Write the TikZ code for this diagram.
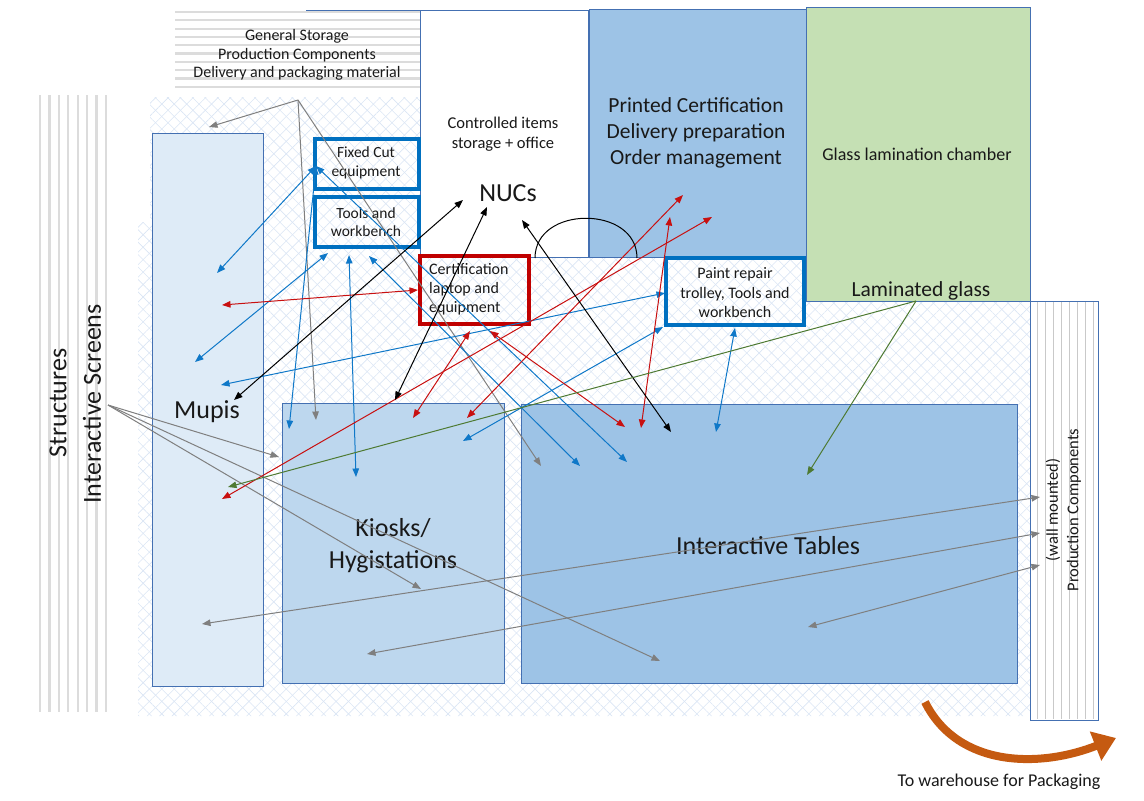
\documentclass[tikz,border=0pt]{standalone}
\usepackage{fontspec}
\setmainfont{Carlito}
\usetikzlibrary{arrows.meta,patterns.meta}
\definecolor{outline}{HTML}{4470B2}
\definecolor{boldblue}{HTML}{0070C0}
\definecolor{boldred}{HTML}{C00000}
\definecolor{paleblue}{HTML}{DEEBF7}
\definecolor{midblue}{HTML}{BDD7EE}
\definecolor{deepblue}{HTML}{9DC3E6}
\definecolor{lamgreen}{HTML}{C5E0B4}
\definecolor{hatchcol}{HTML}{DAE5F4}
\definecolor{stripecol}{HTML}{DCDCDC}
\definecolor{arrgray}{HTML}{7F7F7F}
\definecolor{arrblue}{HTML}{0F78C8}
\definecolor{arrred}{HTML}{C81010}
\definecolor{arrgreen}{HTML}{4E7A32}
\definecolor{orangearr}{HTML}{C55A11}
\begin{document}
\begin{tikzpicture}[x=1pt,y=-1pt,
  >={Triangle[length=8.5pt,width=6.5pt]},
  area/.style={draw=outline, line width=1pt, anchor=north west, inner sep=0pt, outer sep=0pt},
  unitbox/.style={draw=boldblue, line width=3.6pt, anchor=north west, inner sep=0pt, outer sep=0pt},
  certbox/.style={draw=boldred, line width=3.6pt, anchor=north west, inner sep=0pt, outer sep=0pt},
  stripe/.style={draw=stripecol, line width=2.2pt},
  thinstripe/.style={draw=stripecol!80!gray, line width=0.8pt},
  garr/.style={draw=arrgray, line width=1pt},
  barr/.style={draw=arrblue, line width=1pt},
  rarr/.style={draw=arrred, line width=1pt},
  karr/.style={draw=black, line width=1pt},
  narr/.style={draw=arrgreen, line width=1pt},
  lbl/.style={inner sep=0pt, align=center, text=black!90}
]
\useasboundingbox (0,0) rectangle (1144,801);

% floor hatching
\fill[pattern={Lines[angle=45,distance=8.8pt,line width=0.6pt]}, pattern color=hatchcol]
  (150,97) -- (1030,97) -- (1030,716) -- (138,716) -- (138,222) -- (150,222) -- cycle;
\fill[pattern={Lines[angle=-45,distance=8.8pt,line width=0.6pt]}, pattern color=hatchcol]
  (150,97) -- (1030,97) -- (1030,716) -- (138,716) -- (138,222) -- (150,222) -- cycle;

% striped storage zones
\foreach \yy in {12,20.3,...,95} \draw[stripe] (175,\yy) -- (420,\yy);
\foreach \xx in {40,49.4,...,107} \draw[stripe] (\xx,95) -- (\xx,712);

% rooms and areas
\node[area, fill=white, minimum width=168pt, minimum height=247pt] (ctrl) at (420,10) {};
\node[area, fill=deepblue, minimum width=217pt, minimum height=248pt] (printed) at (589,9) {};
\node[area, fill=lamgreen, minimum width=224pt, minimum height=294pt] (lamin) at (806,7) {};
\node[area, fill=white, minimum width=68pt, minimum height=419pt] (prod) at (1030,301) {};
\foreach \xx in {1037,1045,...,1095} \draw[thinstripe] (\xx,302) -- (\xx,719);
\draw[area] (prod.north west) rectangle (prod.south east);
\node[area, fill=paleblue, minimum width=111pt, minimum height=553pt] (mupis) at (152,133) {};
\node[area, fill=midblue, minimum width=222pt, minimum height=280pt] (kiosk) at (282,403) {};
\node[area, fill=deepblue, minimum width=496pt, minimum height=279pt] (tables) at (521,404) {};

\coordinate (edgeA) at (306,10);
\coordinate (edgeB) at (420,10);
\draw[draw=outline, line width=1pt] (edgeA) -- (edgeB);

% equipment boxes
\node[unitbox, minimum width=104pt, minimum height=50pt] (fixedcut) at (315,139) {};
\node[unitbox, minimum width=104pt, minimum height=50pt] (tools) at (315,197) {};
\node[certbox, minimum width=109pt, minimum height=68pt] (cert) at (420,256) {};
\node[unitbox, minimum width=138pt, minimum height=67pt] (paint) at (666,258) {};

% labels
\node[lbl, font=\fontsize{16}{18.6}\selectfont] (storagetxt) at (297,55) {General Storage\\Production Components\\Delivery and packaging material};
\node[lbl, font=\fontsize{16.5}{20}\selectfont] (ctrltxt) at (503,134) {Controlled items\\storage + office};
\node[lbl, font=\fontsize{26}{31}\selectfont] (nucs) at (508,193) {NUCs};
\node[lbl, font=\fontsize{21.5}{26}\selectfont] (printedtxt) at (696,133) {Printed Certification\\Delivery preparation\\Order management};
\node[lbl, font=\fontsize{18}{21}\selectfont] (lamintxt) at (917,154) {Glass lamination chamber};
\node[lbl, font=\fontsize{21.5}{26}\selectfont] (lamglass) at (921,291) {Laminated glass};
\node[lbl, font=\fontsize{15.5}{19}\selectfont] (fixedtxt) at (366,163) {Fixed Cut\\equipment};
\node[lbl, font=\fontsize{15.5}{17.5}\selectfont] (toolstxt) at (366,222) {Tools and\\workbench};
\node[lbl, font=\fontsize{16}{19}\selectfont, anchor=west, align=left] (certtxt) at (429,289) {Certification\\laptop and\\equipment};
\node[lbl, font=\fontsize{16}{19.5}\selectfont] (painttxt) at (735,293) {Paint repair\\trolley, Tools and\\workbench};
\node[lbl, font=\fontsize{26}{31}\selectfont] (mupistxt) at (207,412) {Mupis};
\node[lbl, font=\fontsize{26}{32}\selectfont] (kiosktxt) at (393,546) {Kiosks/\\Hygistations};
\node[lbl, font=\fontsize{26}{31}\selectfont] (tablestxt) at (768,546) {Interactive Tables};
\node[lbl, font=\fontsize{26}{31}\selectfont, rotate=90] (structtxt) at (58,403) {Structures};
\node[lbl, font=\fontsize{26}{31}\selectfont, rotate=90] (screentxt) at (92,404) {Interactive Screens};
\node[lbl, font=\fontsize{16.5}{20}\selectfont, rotate=90] (walltxt) at (1053,510) {(wall mounted)};
\node[lbl, font=\fontsize{16.5}{20}\selectfont, rotate=90] (prodtxt) at (1074,510) {Production Components};
\node[lbl, font=\fontsize{18}{21}\selectfont] (warehouse) at (999,782) {To warehouse for Packaging};

% flow end points
\coordinate (gsrc) at (298,100);
\coordinate (isrc) at (108,405);
\coordinate (lsrc) at (916,301);
\coordinate (g1) at (209,127);
\coordinate (g2) at (316,420);
\coordinate (g3) at (541,466);
\coordinate (g4) at (279,457);
\coordinate (g5) at (421,589);
\coordinate (g6) at (660,661);
\coordinate (g7a) at (202,624);  \coordinate (g7b) at (1040,497);
\coordinate (g8a) at (367,654);  \coordinate (g8b) at (1040,533);
\coordinate (g9a) at (808,627);  \coordinate (g9b) at (1040,565);
\coordinate (fc) at (316,166);
\coordinate (b1) at (217,273);
\coordinate (b2) at (289,429);
\coordinate (b3) at (627,462);
\coordinate (t1) at (328,253);  \coordinate (b4) at (195,362);
\coordinate (t2) at (349,255);  \coordinate (b5) at (356,477);
\coordinate (t3) at (369,256);  \coordinate (b6) at (580,466);
\coordinate (p1) at (665,293);  \coordinate (b7) at (221,385);
\coordinate (p2) at (663,327);  \coordinate (b8) at (463,441);
\coordinate (p3) at (735,328);  \coordinate (b9) at (716,432);
\coordinate (c1) at (418,290);  \coordinate (r1) at (222,305);
\coordinate (c2) at (470,331);  \coordinate (r2) at (413,418);
\coordinate (c3) at (490,331);  \coordinate (r3) at (625,427);
\coordinate (d1) at (712,217);  \coordinate (r4) at (222,499);
\coordinate (d2) at (683,195);  \coordinate (r5) at (467,418);
\coordinate (d3) at (670,217);  \coordinate (r6) at (641,428);
\coordinate (n1) at (463,200);  \coordinate (k1) at (234,400);
\coordinate (n2) at (487,207);  \coordinate (k2) at (395,400);
\coordinate (n3) at (522,220);  \coordinate (k3) at (671,432);
\coordinate (arcL) at (535,258); \coordinate (arcR) at (637,258);
\coordinate (e1) at (228,487);
\coordinate (e2) at (807,475);
\coordinate (oStart) at (925,702);
\coordinate (oEnd) at (1116,738);

% storage supply
\draw[garr,->] (gsrc) -- (g1);
\draw[garr,->] (gsrc) -- (g2);
\draw[garr,->] (gsrc) -- (g3);
% interactive screen structures
\draw[garr,->] (isrc) -- (g4);
\draw[garr,->] (isrc) -- (g5);
\draw[garr,->] (isrc) -- (g6);
% wall mounted components
\draw[garr,<->] (g7a) -- (g7b);
\draw[garr,<->] (g8a) -- (g8b);
\draw[garr,<->] (g9a) -- (g9b);

% tools and equipment
\draw[barr,<->] (fc) -- (b1);
\draw[barr,<->] (fc) -- (b2);
\draw[barr,<->] (fc) -- (b3);
\draw[barr,<->] (t1) -- (b4);
\draw[barr,<->] (t2) -- (b5);
\draw[barr,<->] (t3) -- (b6);
\draw[barr,<->] (p1) -- (b7);
\draw[barr,<->] (p2) -- (b8);
\draw[barr,<->] (p3) -- (b9);

% certification
\draw[rarr,<->] (c1) -- (r1);
\draw[rarr,<->] (c2) -- (r2);
\draw[rarr,<->] (c3) -- (r3);
\draw[rarr,<->] (d1) -- (r4);
\draw[rarr,<->] (d2) -- (r5);
\draw[rarr,<->] (d3) -- (r6);

% NUCs
\draw[karr,<->] (n1) -- (k1);
\draw[karr,<->] (n2) -- (k2);
\draw[karr,<->] (n3) -- (k3);
\draw[karr] (arcL) .. controls (535,205) and (637,205) .. (arcR);

% laminated glass
\draw[narr,->] (lsrc) -- (e1);
\draw[narr,->] (lsrc) -- (e2);

% dispatch
\draw[draw=orangearr, line width=8pt, -{Triangle[length=22pt,width=30pt]}]
  (oStart) .. controls (958,768) and (1040,768) .. (oEnd);
\end{tikzpicture}
\end{document}
